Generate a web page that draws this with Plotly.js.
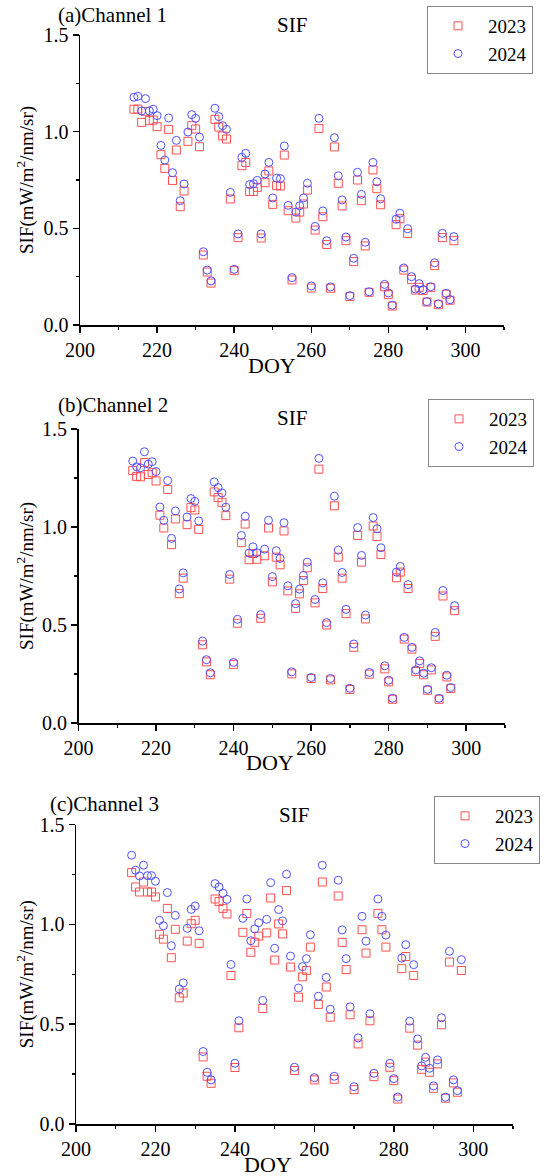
<!DOCTYPE html>
<html>
<head>
<meta charset="utf-8">
<script src="https://cdn.plot.ly/plotly-3.0.1.min.js"></script>
<style>
html,body{margin:0;padding:0;background:#fff;}
#chart{width:550px;height:1176px;}
</style>
</head>
<body>
<div id="chart"></div>
<script>
// Day of year (shared by all three channels)
const doy = [];
for (let d = 214; d <= 297; d++) doy.push(d);

const seriesNames = ["2023", "2024"];
const panelTitles = ["(a)Channel 1", "(b)Channel 2", "(c)Channel 3"];
const xTickVals = [200, 220, 240, 260, 280, 300];

// Channel 1
const ch1_2023 = [1.116,1.117,1.048,1.105,1.057,1.060,1.026,0.881,0.810,1.012,0.747,0.905,0.612,0.693,0.950,1.031,1.014,0.922,0.362,0.274,0.217,1.064,1.024,0.978,0.962,0.652,0.281,0.452,0.824,0.841,0.690,0.691,0.712,0.450,0.736,0.797,0.624,0.721,0.719,0.879,0.591,0.233,0.553,0.584,0.626,0.698,0.191,0.491,1.016,0.560,0.416,0.190,0.921,0.733,0.616,0.436,0.147,0.328,0.750,0.643,0.409,0.169,0.802,0.705,0.622,0.198,0.157,0.098,0.519,0.550,0.284,0.474,0.236,0.181,0.195,0.178,0.119,0.193,0.307,0.105,0.452,0.159,0.128,0.436];
const ch1_2024 = [1.178,1.183,1.107,1.171,1.107,1.116,1.083,0.929,0.853,1.071,0.788,0.955,0.643,0.729,0.998,1.088,1.069,0.972,0.379,0.284,0.228,1.121,1.078,1.031,1.012,0.686,0.288,0.471,0.867,0.888,0.726,0.731,0.748,0.471,0.781,0.841,0.657,0.760,0.757,0.926,0.619,0.245,0.584,0.617,0.657,0.733,0.202,0.510,1.069,0.590,0.436,0.197,0.969,0.772,0.647,0.455,0.152,0.345,0.790,0.676,0.428,0.172,0.841,0.741,0.653,0.210,0.166,0.102,0.547,0.578,0.295,0.498,0.250,0.186,0.214,0.183,0.121,0.198,0.322,0.109,0.474,0.164,0.131,0.457];

// Channel 2
const ch2_2023 = [1.288,1.258,1.256,1.329,1.268,1.277,1.235,1.060,0.995,1.191,0.910,1.041,0.660,0.739,1.012,1.099,1.087,0.988,0.399,0.312,0.246,1.179,1.150,1.126,1.058,0.734,0.299,0.509,0.920,1.015,0.833,0.865,0.835,0.534,0.853,0.995,0.720,0.846,0.807,0.980,0.674,0.251,0.585,0.659,0.727,0.792,0.227,0.613,1.295,0.686,0.500,0.220,1.108,0.846,0.739,0.558,0.171,0.386,0.957,0.821,0.531,0.249,1.005,0.952,0.860,0.276,0.210,0.121,0.741,0.770,0.428,0.686,0.377,0.263,0.304,0.246,0.167,0.271,0.442,0.121,0.648,0.235,0.176,0.573];
const ch2_2024 = [1.336,1.307,1.302,1.384,1.321,1.333,1.283,1.102,1.034,1.237,0.942,1.082,0.684,0.766,1.051,1.145,1.131,1.031,0.418,0.323,0.256,1.230,1.201,1.174,1.101,0.758,0.309,0.529,0.957,1.055,0.867,0.899,0.869,0.553,0.887,1.034,0.747,0.879,0.840,1.022,0.700,0.261,0.609,0.683,0.753,0.821,0.232,0.630,1.350,0.715,0.512,0.227,1.157,0.882,0.768,0.580,0.177,0.403,0.997,0.855,0.551,0.258,1.048,0.991,0.894,0.292,0.218,0.126,0.770,0.799,0.437,0.706,0.386,0.271,0.317,0.254,0.172,0.282,0.462,0.126,0.676,0.244,0.181,0.599];

// Channel 3
const ch3_2023 = [1.259,1.187,1.162,1.212,1.162,1.162,1.137,0.950,0.926,1.080,0.833,0.975,0.632,0.656,0.916,1.003,1.020,0.905,0.336,0.239,0.204,1.127,1.114,1.080,1.052,0.744,0.283,0.482,0.960,1.054,0.860,0.910,0.941,0.579,0.957,1.132,0.821,1.002,0.952,1.169,0.786,0.268,0.635,0.737,0.769,0.886,0.221,0.599,1.212,0.686,0.535,0.224,1.142,0.910,0.773,0.547,0.172,0.401,0.973,0.856,0.517,0.237,1.055,0.973,0.886,0.284,0.217,0.125,0.778,0.839,0.480,0.744,0.395,0.274,0.310,0.259,0.179,0.301,0.497,0.129,0.811,0.206,0.159,0.769];
const ch3_2024 = [1.346,1.271,1.242,1.296,1.244,1.244,1.216,1.020,0.993,1.159,0.893,1.045,0.676,0.707,0.980,1.075,1.092,0.968,0.363,0.259,0.221,1.204,1.187,1.156,1.125,0.799,0.304,0.517,1.030,1.127,0.918,0.977,1.008,0.619,1.025,1.209,0.880,1.074,1.017,1.251,0.841,0.284,0.681,0.788,0.828,0.948,0.232,0.640,1.296,0.734,0.575,0.239,1.221,0.972,0.828,0.587,0.187,0.431,1.040,0.916,0.552,0.254,1.127,1.040,0.946,0.304,0.227,0.135,0.831,0.898,0.515,0.798,0.426,0.291,0.334,0.279,0.191,0.321,0.532,0.134,0.865,0.221,0.167,0.823];

const panels = [[ch1_2023, ch1_2024], [ch2_2023, ch2_2024], [ch3_2023, ch3_2024]];

const W = 550, H = 1176;
const FONT = "Liberation Serif";
// pixel geometry of each panel: [left, right, top, bottom]
const geo = [[80, 504, 35, 325], [78.5, 505, 429, 723], [76, 513, 824.5, 1124]];
const legPos = [[427, 6], [428, 399], [434, 796]];
const titlePos = [[56, 15], [56, 405], [48, 804]];
const sifPos = [[292, 25], [292, 418], [294, 815]];
const doyPos = [[272, 365], [270, 762], [268, 1164]];

const colors = ["#ff5050", "#5050ff"];
const symbols = ["square-open", "circle-open"];

const traces = [];
const layout = {
  width: W, height: H,
  margin: {l: 0, r: 0, t: 0, b: 0},
  paper_bgcolor: "#fff", plot_bgcolor: "rgba(0,0,0,0)",
  font: {family: FONT, size: 20, color: "#000"},
  annotations: [],
  showlegend: true
};

panels.forEach((pair, i) => {
  const sfx = i === 0 ? "" : String(i + 1);
  const legName = "legend" + sfx;
  pair.forEach((vals, j) => {
    traces.push({
      type: "scatter", mode: "markers",
      x: doy, y: vals, name: seriesNames[j],
      xaxis: "x" + sfx, yaxis: "y" + sfx,
      legend: legName,
      marker: {symbol: symbols[j], size: 8, color: colors[j], line: {width: 1, color: colors[j]}}
    });
  });
  const g = geo[i];
  const common = {
    showline: true, linecolor: "#000", linewidth: 1.5,
    ticks: "outside", ticklen: 6, tickwidth: 1.5, tickcolor: "#000",
    showgrid: false, zeroline: false,
    tickfont: {family: FONT, size: 20, color: "#000"}
  };
  layout["xaxis" + sfx] = Object.assign({}, common, {
    domain: [g[0] / W, g[1] / W], anchor: "y" + sfx,
    range: [200, 310], tickmode: "array", tickvals: xTickVals,
    minor: {dtick: 10, tick0: 200, ticks: "outside", ticklen: 3, tickwidth: 1.2, tickcolor: "#000", showgrid: false}
  });
  layout["yaxis" + sfx] = Object.assign({}, common, {
    domain: [1 - g[3] / H, 1 - g[2] / H], anchor: "x" + sfx,
    range: [0, 1.5], dtick: 0.5, tick0: 0, tickformat: ".1f",
    minor: {dtick: 0.25, tick0: 0, ticks: "outside", ticklen: 3, tickwidth: 1.2, tickcolor: "#000", showgrid: false}
  });
  layout[legName] = {
    x: legPos[i][0] / W, y: 1 - legPos[i][1] / H, xanchor: "left", yanchor: "top",
    xref: "paper", yref: "paper",
    bgcolor: "#fff", bordercolor: "#888", borderwidth: 1,
    font: {family: FONT, size: 19, color: "#000"},
    itemwidth: 50, tracegroupgap: 0
  };
  layout.annotations.push(
    {xref: "paper", yref: "paper", x: titlePos[i][0] / W, y: 1 - titlePos[i][1] / H,
     xanchor: "left", yanchor: "middle", showarrow: false, text: panelTitles[i],
     font: {family: FONT, size: 21, color: "#000"}},
    {xref: "paper", yref: "paper", x: sifPos[i][0] / W, y: 1 - sifPos[i][1] / H,
     xanchor: "center", yanchor: "middle", showarrow: false, text: "SIF",
     font: {family: FONT, size: 21, color: "#000"}},
    {xref: "paper", yref: "paper", x: doyPos[i][0] / W, y: 1 - doyPos[i][1] / H,
     xanchor: "center", yanchor: "middle", showarrow: false, text: "DOY",
     font: {family: FONT, size: 22, color: "#000"}},
    {xref: "paper", yref: "paper", x: 25 / W, y: 1 - ((g[2] + g[3]) / 2) / H,
     xanchor: "center", yanchor: "middle", showarrow: false, textangle: -90,
     text: "SIF(mW/m<sup>2</sup>/nm/sr)",
     font: {family: FONT, size: 19, color: "#000"}}
  );
});

Plotly.newPlot("chart", traces, layout, {displayModeBar: false, staticPlot: true});
</script>
</body>
</html>
